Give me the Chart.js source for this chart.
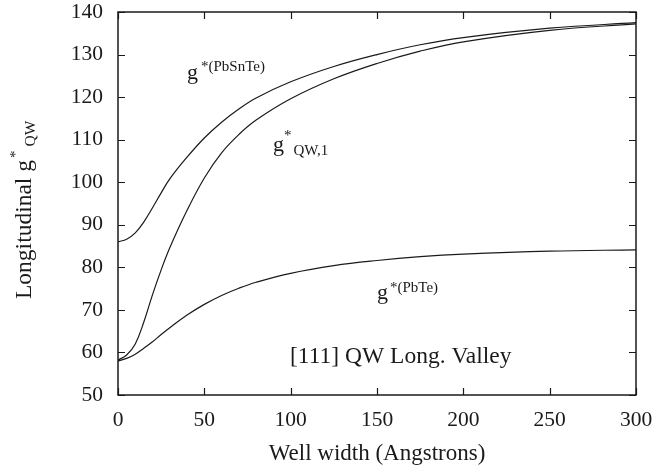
<!DOCTYPE html>
<html>
<head>
<meta charset="utf-8">
<script src="https://cdn.jsdelivr.net/npm/chart.js@4"></script>
<style>
  html, body { margin: 0; padding: 0; background: #fff; }
  #wrap { width: 655px; height: 472px; }
</style>
</head>
<body>
<div id="wrap"><canvas id="gChart" width="655" height="472"></canvas></div>
<script>
// well width (Angstrons)
var wellWidth = [0, 5, 10, 15, 20, 25, 30, 40, 50, 60, 70, 80, 100, 125, 150, 175, 200, 250, 300];
// g*(PbSnTe)
var gPbSnTe = [86, 86.6, 88.1, 90.7, 94.0, 97.5, 100.8, 105.9, 110.4, 114.1, 117.2, 119.8, 123.6, 127.2, 130.0, 132.3, 134.0, 136.2, 137.5];
// g*QW,1
var gQW1 = [58.2, 59.4, 62.0, 67.2, 73.6, 79.4, 84.6, 93.4, 101.0, 106.9, 111.2, 114.6, 119.6, 124.3, 127.9, 130.8, 133.0, 135.7, 137.2];
// g*(PbTe)
var gPbTe = [58, 58.6, 59.6, 61, 62.5, 64.2, 65.8, 68.8, 71.3, 73.4, 75.1, 76.5, 78.6, 80.4, 81.6, 82.5, 83.1, 83.8, 84.1];

var xTicks = [0, 50, 100, 150, 200, 250, 300];
var yTicks = [50, 60, 70, 80, 90, 100, 110, 120, 130, 140];

var serif = '"Liberation Serif", "Times New Roman", serif';
var ink = '#1a1a1a';

function pts(ys) {
  return wellWidth.map(function (x, i) { return { x: x, y: ys[i] }; });
}

function curve(label, ys) {
  return {
    label: label,
    data: pts(ys),
    borderColor: ink,
    borderWidth: 1.2,
    pointRadius: 0,
    fill: false,
    tension: 0.4
  };
}

// draws text pieces one after another: [text, size, dy, gap]
function rich(ctx, x, y, parts) {
  var cx = x;
  parts.forEach(function (p) {
    ctx.font = p[1] + 'px ' + serif;
    ctx.fillText(p[0], cx, y + p[2]);
    cx += ctx.measureText(p[0]).width + (p[3] || 0);
  });
}

var frame = {
  id: 'frame',
  afterDraw: function (chart) {
    var ctx = chart.ctx, a = chart.chartArea;
    var xs = chart.scales.x, ys = chart.scales.y;
    var tl = 7;
    ctx.save();
    ctx.strokeStyle = ink;
    ctx.lineWidth = 1.2;
    ctx.beginPath();
    xTicks.forEach(function (v) {
      var px = Math.round(xs.getPixelForValue(v)) + 0.5;
      ctx.moveTo(px, a.bottom); ctx.lineTo(px, a.bottom - tl);
      ctx.moveTo(px, a.top); ctx.lineTo(px, a.top + tl);
    });
    yTicks.forEach(function (v) {
      var py = Math.round(ys.getPixelForValue(v)) + 0.5;
      ctx.moveTo(a.left, py); ctx.lineTo(a.left + tl, py);
      ctx.moveTo(a.right, py); ctx.lineTo(a.right - tl, py);
    });
    ctx.stroke();
    ctx.lineWidth = 1.5;
    ctx.strokeRect(a.left, a.top, a.right - a.left, a.bottom - a.top);

    ctx.fillStyle = ink;
    ctx.textBaseline = 'alphabetic';
    ctx.textAlign = 'left';

    // curve labels
    rich(ctx, 187, 79, [['g', 22, 0, 3], ['*(PbSnTe)', 15, -8]]);
    rich(ctx, 273, 151, [['g', 22, 0, 0], ['*', 15, -11, 2], ['QW,1', 15, 4]]);
    rich(ctx, 377, 299, [['g', 22, 0, 2], ['*(PbTe)', 15, -7]]);

    ctx.font = '23.5px ' + serif;
    ctx.fillText('[111] QW Long. Valley', 290, 363);

    // x title
    ctx.textAlign = 'center';
    ctx.font = '23px ' + serif;
    ctx.fillText('Well width (Angstrons)', 377, 460);

    // y title, rotated
    ctx.textAlign = 'left';
    ctx.translate(31, 299);
    ctx.rotate(-Math.PI / 2);
    rich(ctx, 0, 0, [['Longitudinal g', 23.5, 0, 2], ['*', 15, -11, 4], ['QW', 15.5, 4]]);
    ctx.restore();
  }
};

function fixY(scale) {
  scale.width = 118;
  scale.paddingTop = scale.paddingBottom = scale.paddingLeft = scale.paddingRight = 0;
}
function fixX(scale) {
  scale.height = 77;
  scale.paddingTop = scale.paddingBottom = scale.paddingLeft = scale.paddingRight = 0;
}

var ctx = document.getElementById('gChart').getContext('2d');
var chart = new Chart(ctx, {
  type: 'line',
  data: {
    datasets: [
      curve('g*(PbSnTe)', gPbSnTe),
      curve('g*QW,1', gQW1),
      curve('g*(PbTe)', gPbTe)
    ]
  },
  options: {
    responsive: false,
    devicePixelRatio: 1,
    animation: false,
    layout: { padding: { left: 0, right: 19, top: 12, bottom: 0 } },
    plugins: { legend: { display: false }, tooltip: { enabled: false } },
    scales: {
      x: {
        type: 'linear',
        min: 0,
        max: 300,
        afterFit: fixX,
        afterBuildTicks: function (s) { s.ticks = xTicks.map(function (v) { return { value: v }; }); },
        grid: { display: false, drawTicks: false },
        border: { display: false },
        ticks: { color: ink, font: { family: serif, size: 21.5 }, padding: 12, maxRotation: 0 }
      },
      y: {
        type: 'linear',
        min: 50,
        max: 140,
        afterFit: fixY,
        afterBuildTicks: function (s) { s.ticks = yTicks.map(function (v) { return { value: v }; }); },
        grid: { display: false, drawTicks: false },
        border: { display: false },
        ticks: { color: ink, font: { family: serif, size: 21.5 }, padding: 15 }
      }
    }
  },
  plugins: [frame]
});
</script>
</body>
</html>
